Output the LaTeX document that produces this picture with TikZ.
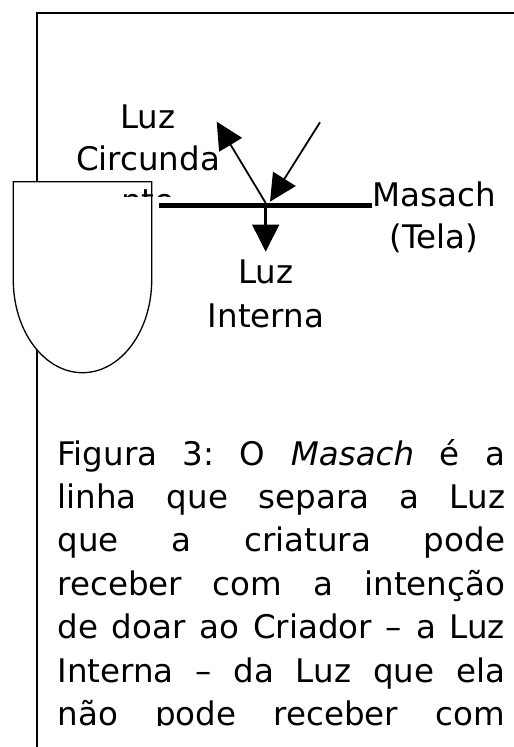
\documentclass[tikz,border=0pt]{standalone}
\usepackage{fontspec}
\setmainfont{DejaVu Sans}
\usetikzlibrary{arrows.meta}
\begin{document}
\frenchspacing
\begin{tikzpicture}[x=1pt,y=-1pt,
  lbl/.style={inner sep=0pt, outer sep=0pt, anchor=base},
  framestyle/.style={line width=1.8pt, line cap=rect},
  shield/.style={draw=black, fill=white, line width=1.3pt},
  screen/.style={line width=5pt},
  ray/.style={line width=1.8pt, -{Triangle[length=27pt,width=26.5pt]}},
  raydown/.style={line width=3pt, -{Triangle[length=27pt,width=26.5pt]}}]
\useasboundingbox (0,0) rectangle (514,747);
\fill[white] (0,0) rectangle (514,747);
% frame
\draw[framestyle] (37,747) -- (37,13.3) -- (514,13.3);
% vessel (shield)
\path[shield] (13.3,181.7) -- (151.7,181.7) -- (151.7,280)
  .. controls (151.7,331.2) and (120.7,372.7) .. (82.5,372.7)
  .. controls (44.3,372.7) and (13.3,331.2) .. (13.3,280) -- cycle;
% Luz Circundante label (clipped)
\begin{scope}
  \clip (40,80) rectangle (260,196.3);
  \node[lbl] (circ) at (148,128.3) {\parbox[t]{180pt}{\centering\fontsize{32.5}{42}\selectfont Luz\\Circunda\\nte}};
\end{scope}
% Masach line
\coordinate (mL) at (159.3,205);
\coordinate (mR) at (371.7,205);
\draw[screen] (mL) -- (mR);
\coordinate (J) at (265.7,203);
\coordinate (up) at (216.7,121.7);
\coordinate (inS) at (320,122.3);
\coordinate (inE) at (270,201.7);
\coordinate (J2) at (265.7,205);
\coordinate (dn) at (265.7,251.7);
\draw[ray] (J) -- (up);
\draw[ray] (inS) -- (inE);
\draw[raydown] (J2) -- (dn);
% labels
\node[lbl] (masach) at (434,206.7) {\parbox[t]{160pt}{\centering\fontsize{32.5}{41.5}\selectfont Masach\\(Tela)}};
\node[lbl] (interna) at (266,283.3) {\parbox[t]{160pt}{\centering\fontsize{32.5}{44}\selectfont Luz\\Interna}};
% caption
\begin{scope}
  \clip (40,400) rectangle (514,725);
  \node[lbl, anchor=base west] (cap) at (57.5,465) {\parbox[t]{447.5pt}{\fontsize{32.5}{43.4}\selectfont\frenchspacing\tolerance=10000\hbadness=10000\parfillskip=0pt
  Figura 3: O \textit{Masach} é a\linebreak
  linha que separa a Luz\linebreak
  que a criatura pode\linebreak
  receber com a intenção\linebreak
  de doar ao Criador – a Luz\linebreak
  Interna – da Luz que ela\linebreak
  não pode receber com}};
\end{scope}
\end{tikzpicture}
\end{document}
